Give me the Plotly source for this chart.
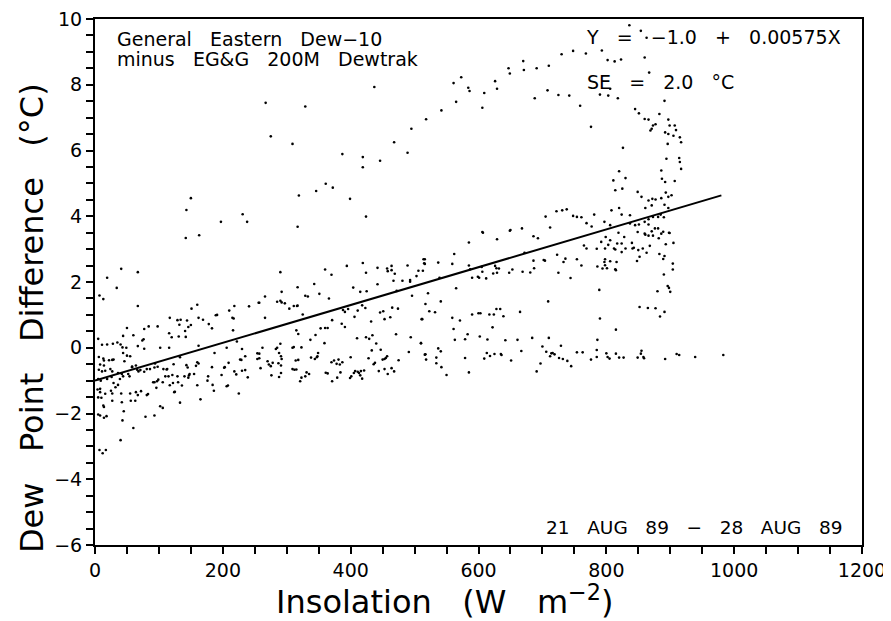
import plotly.graph_objects as go

# (insolation W m-2, dew point difference degC)
low_insolation = [
    (142,3.34),(163,3.42),(41,2.40),(67,2.30),(19,2.13),(34,1.82),(7,1.59),(13,1.48),(67,1.27),(160,1.31),
    (151,1.19),(117,0.91),(129,0.84),(134,0.85),(144,0.83),(150,0.69),(146,0.63),(132,0.70),(162,0.91),(169,0.85),
    (178,0.72),(183,0.59),(189,0.99),(191,1.00),(210,1.13),(215,0.91),(217,0.89),(218,1.27),(241,1.26),(256,1.37),
    (216,0.53),(50,0.60),(44,0.36),(60,0.38),(77,0.57),(84,0.65),(98,0.65),(116,0.44),(120,0.32),(131,0.34),
    (141,0.51),(142,0.33),(76,0.26),(74,0.22),(5,0.27),(11,0.09),(19,0.10),(28,0.12),(35,0.16),(40,0.10),
    (43,0.01),(49,0.0),(67,0.05),(77,-0.03),(102,0.0),(116,0.0),(44,-0.16),(50,-0.24),(55,-0.26),(6,-0.28),
    (13,-0.33),(14,-0.39),(22,-0.38),(27,-0.37),(29,-0.36),(8,-0.51),(14,-0.54),(46,-0.41),(58,-0.57),(6,-0.67),
    (11,-0.72),(16,-0.70),(24,-0.65),(27,-0.72),(36,-0.77),(42,-0.80),(133,-0.29),(162,0.06),(187,-0.16),(206,0.0),
    (222,0.19),(230,-0.04),(235,-0.26),(254,-0.17),(257,-0.32),(227,-0.36),(229,-0.37),(209,-0.46),(203,-0.59),(160,-0.44),
    (162,-0.48),(158,-0.55),(143,-0.53),(145,-0.60),(123,-0.50),(113,-0.65),(107,-0.65),(94,-0.48),(93,-0.60),(98,-0.58),
    (86,-0.65),(81,-0.65),(77,-0.73),(66,-0.67),(68,-0.72),(71,-0.68),(58,-0.59),(64,-0.54),(52,-0.80),(54,-0.87),
    (44,-0.87),(39,-0.95),(5,-0.95),(9,-1.00),(19,-0.95),(26,-0.89),(29,-1.07),(36,-1.13),(32,-1.20),(4,-1.27),
    (8,-1.35),(16,-1.40),(25,-1.31),(27,-1.39),(41,-1.39),(55,-1.39),(64,-1.35),(67,-1.44),(72,-1.32),(81,-1.44),
    (83,-1.41),(5,-1.51),(10,-1.52),(27,-1.61),(42,-1.66),(56,-1.61),(63,-1.61),(13,-1.76),(14,-1.80),(102,-1.78),
    (106,-1.83),(96,-1.22),(93,-1.05),(99,-0.97),(97,-1.02),(91,-1.05),(106,-1.05),(110,-0.87),(112,-0.66),(117,-1.14),
    (122,-1.07),(130,-1.05),(136,-1.15),(124,-1.35),(125,-1.34),(133,-1.67),(115,-0.87),(121,-0.83),(129,-0.87),(140,-0.87),
    (146,-0.91),(147,-0.84),(148,-0.80),(155,-0.80),(160,-1.14),(165,-1.57),(176,-1.00),(177,-0.87),(183,-0.59),(184,-1.13),
    (186,-1.31),(198,-0.83),(202,-0.61),(208,-1.15),(206,-1.17),(218,-0.72),(221,-0.81),(225,-1.39),(239,-0.90),(230,-0.70),
    (235,-0.68),(5,-2.03),(8,-2.06),(14,-2.13),(18,-2.08),(43,-2.21),(45,-1.93),(79,-2.10),(93,-2.06),(60,-2.44),
    (40,-2.81),(7,-3.11),(12,-3.21),(17,-3.11),(8,-1.25),
]

mid_insolation = [
    (290,2.30),(360,2.38),(370,2.22),(394,2.49),(419,2.58),(424,2.28),(442,2.43),(457,2.41),(458,2.33),(464,2.49),
    (464,2.36),(469,2.25),(489,2.50),(493,2.06),(493,2.01),(503,2.18),(506,2.34),(514,2.69),(515,2.57),(467,2.04),
    (481,2.04),(442,1.93),(343,1.94),(317,1.84),(292,1.70),(266,1.56),(257,1.37),(285,1.40),(290,1.43),(292,1.38),
    (297,1.35),(329,1.58),(333,1.56),(351,1.64),(366,1.50),(404,1.83),(415,1.70),(425,1.72),(472,1.73),(496,1.58),
    (304,1.19),(311,1.27),(316,1.27),(317,1.28),(325,1.01),(266,0.91),(371,0.84),(388,1.15),(391,1.09),(396,1.18),
    (406,0.94),(411,1.13),(418,1.29),(423,1.21),(432,0.80),(446,1.07),(451,1.11),(453,0.87),(462,0.93),(465,1.22),
    (474,1.19),(511,0.87),(386,0.73),(391,0.63),(353,0.59),(360,0.60),(364,0.60),(315,0.53),(318,0.42),(345,0.39),
    (337,0.24),(359,0.14),(410,0.29),(424,0.32),(429,0.27),(434,0.38),(440,0.13),(471,0.41),(494,0.32),(510,0.14),
    (516,-0.21),(257,-0.18),(262,0.0),(254,-0.34),(259,-0.62),(285,0.0),(283,-0.04),(290,0.12),(288,-0.16),(291,-0.26),
    (292,-0.34),(270,-0.41),(272,-0.51),(275,-0.56),(278,-0.46),(287,-0.47),(291,-0.54),(276,-0.84),(288,-0.89),(291,-0.77),
    (309,0.0),(311,0.02),(323,0.01),(309,-0.65),(312,-0.67),(315,-0.66),(314,-0.39),(318,-0.37),(331,-0.75),(335,-0.80),
    (329,-0.87),(323,-0.91),(321,-1.02),(338,-0.30),(344,-0.34),(347,-0.29),(349,-0.16),(348,-0.26),(361,-0.76),(364,-0.78),
    (370,-0.44),(374,-0.39),(378,-0.49),(381,-0.36),(387,-0.44),(383,-0.51),(371,-1.02),(379,-0.91),(384,-0.75),(400,-0.29),
    (399,-0.92),(401,-0.87),(405,-0.77),(407,-0.71),(411,-0.73),(413,-0.77),(416,-0.71),(421,-0.69),(418,-0.94),(415,-0.84),
    (428,-0.32),(433,-0.08),(436,-0.50),(438,-0.46),(447,-0.06),(450,-0.36),(453,-0.34),(455,-0.31),(457,-0.26),(444,-0.71),
    (453,-0.65),(458,-0.80),(464,-0.62),(468,-0.72),(475,-0.38),(491,-0.13),
]

high_insolation = [
    (606,3.52),(649,3.56),(585,3.20),(629,3.30),(686,3.39),(693,3.33),(562,2.85),(516,2.69),(516,2.55),(513,2.34),
    (537,2.59),(559,2.55),(585,2.50),(587,2.39),(606,2.31),(605,2.46),(626,2.49),(628,2.42),(632,2.41),(623,2.26),
    (629,2.28),(599,2.16),(601,2.13),(612,2.11),(590,2.13),(648,2.28),(653,2.38),(669,2.31),(681,2.29),(687,2.42),
    (672,2.89),(686,2.65),(702,2.67),(704,2.65),(723,2.83),(736,2.71),(733,2.61),(754,2.69),(761,2.50),(765,3.11),
    (769,3.02),(725,2.28),(744,2.12),(539,2.13),(521,1.66),(565,1.81),(517,1.33),(541,1.41),(523,1.11),(532,1.08),
    (512,0.87),(559,0.91),(571,0.83),(590,1.01),(600,1.05),(603,1.05),(617,1.01),(624,1.01),(628,1.18),(634,1.18),
    (639,0.96),(665,1.09),(709,1.41),(561,0.57),(622,0.62),(583,0.41),(563,0.24),(579,0.26),(602,0.34),(614,0.25),
    (642,0.23),(661,0.24),(684,0.30),(710,0.30),(510,0.14),(537,-0.02),(541,-0.11),(517,-0.20),(518,-0.36),(534,-0.30),
    (534,-0.47),(542,-0.59),(550,-0.83),(579,-0.31),(585,-0.75),(609,-0.33),(613,-0.16),(618,-0.25),(625,-0.19),(635,-0.19),
    (636,-0.22),(651,-0.39),(667,-0.10),(697,-0.48),(691,-0.72),(700,0.04),(706,-0.12),(712,-0.26),(714,-0.17),(716,-0.16),
    (719,-0.20),(726,-0.31),(729,0.06),(732,-0.34),(739,-0.40),(745,-0.56),(754,-0.14),(763,-0.14),
]

peak_insolation = [
    (819,3.50),(828,3.37),(849,3.52),(861,3.44),(866,3.41),(873,3.41),(886,3.47),(882,3.33),(899,3.49),(799,3.37),
    (806,3.27),(792,3.22),(803,3.13),(817,3.17),(824,3.17),(840,3.19),(841,3.02),(843,3.04),(785,3.01),(798,3.02),
    (812,3.02),(814,2.99),(830,3.02),(850,2.97),(857,3.02),(868,3.10),(893,3.15),(905,3.19),(824,2.91),(863,2.89),
    (852,2.77),(848,2.64),(883,2.85),(891,2.79),(889,2.70),(798,2.69),(797,2.61),(806,2.63),(816,2.61),(786,2.47),
    (794,2.41),(801,2.42),(798,2.51),(814,2.39),(815,2.36),(904,2.56),(904,2.38),(890,2.23),(896,1.88),(898,1.82),
    (900,1.70),(880,1.72),(789,1.76),(852,1.24),(865,1.21),(877,1.20),(891,1.09),(884,0.95),(790,0.89),(815,0.55),
    (786,0.24),(785,-0.07),(800,-0.17),(815,-0.18),(855,-0.09),(854,-0.18),(776,-0.36),(785,-0.28),(802,-0.28),(805,-0.33),
    (820,-0.30),(827,-0.30),(849,-0.30),(858,-0.28),(859,-0.32),(892,-0.34),(910,-0.19),(914,-0.22),(939,-0.28),(983,-0.22),
]

upper_loop = [
    (518,6.95),(542,7.22),(565,7.48),(561,8.05),(573,8.23),(584,7.91),(586,7.81),(609,7.75),(606,7.30),(626,8.11),
    (629,7.88),(647,8.50),(649,8.34),(670,8.72),(671,8.45),(691,8.50),(710,8.58),(730,8.93),(748,9.03),(768,8.95),
    (793,9.04),(802,8.75),(813,8.71),(823,8.77),(836,9.81),(854,9.64),(863,9.43),(860,8.83),(806,7.88),(867,8.37),
    (688,7.59),(708,7.83),(725,7.69),(742,7.67),(759,7.36),(776,6.72),(790,7.70),(803,7.67),(818,7.59),(826,6.08),
    (845,7.26),(851,7.13),(860,6.96),(866,6.94),(873,6.76),(877,6.80),(869,6.61),(871,6.66),(883,7.11),(891,7.51),
    (897,6.94),(899,6.76),(907,6.76),(909,6.62),(892,6.55),(897,6.50),(905,6.45),(896,6.20),(915,6.40),(917,6.25),
    (894,5.75),(914,5.77),(915,5.65),(917,5.44),(886,5.39),(887,5.14),(892,5.04),(907,5.07),(820,5.37),(830,5.16),
    (811,5.09),(814,4.79),(825,4.84),(849,4.74),(855,4.59),(866,4.48),(872,4.53),(877,4.51),(886,4.55),(893,4.72),
    (897,4.59),(902,4.64),(861,4.25),(871,4.33),(891,4.35),(897,4.25),(820,4.25),(824,4.05),(837,4.03),(808,4.18),
    (781,4.05),(797,3.83),(806,3.73),(722,4.15),(731,4.18),(738,4.21),(748,4.01),(754,3.98),(761,3.97),(705,3.99),
    (769,3.79),(777,3.69),(837,3.78),(845,3.73),(851,3.75),(860,3.83),(866,3.91),(873,3.98),(881,3.98),(885,4.05),
    (890,3.97),(866,3.75),(876,3.63),(881,3.63),(889,3.53),(898,3.50),(871,3.54),(860,3.47),(650,3.58),(668,3.63),
    (712,3.66),(607,3.50),
]

upper_outliers = [
    (437,7.93),(267,7.45),(329,7.34),(275,6.43),(309,6.20),(495,6.66),(468,6.25),(489,5.93),(387,5.89),(419,5.80),
    (419,5.49),(446,5.69),(361,4.99),(372,4.87),(346,4.77),(319,4.63),(399,4.53),(424,3.99),(317,3.68),(150,4.55),
    (143,4.19),(197,3.83),(231,4.06),(238,3.83),
]

fit_intercept = -1.0
fit_slope = 0.00575
fit_x = [0, 980]

x_ticks = [0, 200, 400, 600, 800, 1000, 1200]
y_ticks = [-6, -4, -2, 0, 2, 4, 6, 8, 10]

groups = [low_insolation, mid_insolation, high_insolation, peak_insolation, upper_loop, upper_outliers]
xs = [p[0] for g in groups for p in g]
ys = [p[1] for g in groups for p in g]
fit_y = [fit_intercept + fit_slope * x for x in fit_x]

FONT = "DejaVu Sans"

fig = go.Figure()
fig.add_trace(go.Scatter(x=xs, y=ys, mode="markers",
                         marker=dict(size=2.6, color="black", line=dict(width=0)),
                         hoverinfo="x+y"))
fig.add_trace(go.Scatter(x=fit_x, y=fit_y, mode="lines",
                         line=dict(color="black", width=2)))

# the page body has an 8 px margin, so the figure is sized to fit the 891x621 window
fig.update_layout(
    width=883, height=613,
    margin=dict(l=87, r=29, t=11, b=76, autoexpand=False),
    plot_bgcolor="white", paper_bgcolor="white",
    showlegend=False,
    font=dict(family=FONT, color="black"),
)

fig.update_xaxes(
    range=[0, 1200], tickvals=x_ticks, ticktext=[str(v) for v in x_ticks],
    ticks="outside", ticklen=7, tickwidth=1.5, tickcolor="black",
    minor=dict(dtick=50, tick0=0, ticks="outside", ticklen=7, tickwidth=1.5, tickcolor="black"),
    showline=True, linewidth=2, linecolor="black", mirror=True,
    showgrid=False, zeroline=False, automargin=False, ticklabeloverflow="allow",
    tickfont=dict(size=19, family=FONT),
)
fig.update_yaxes(
    range=[-6, 10], tickvals=y_ticks, ticktext=[("−" + str(-v)) if v < 0 else str(v) for v in y_ticks],
    ticks="outside", ticklen=7, tickwidth=1.5, tickcolor="black",
    minor=dict(dtick=0.5, tick0=0, ticks="outside", ticklen=7, tickwidth=1.5, tickcolor="black"),
    showline=True, linewidth=2, linecolor="black", mirror=True,
    showgrid=False, zeroline=False, automargin=False, ticklabeloverflow="allow",
    tickfont=dict(size=19, family=FONT),
)

# axis titles placed as annotations
fig.add_annotation(xref="paper", yref="paper", x=0.456, y=-0.104, xanchor="center", yanchor="middle",
                   showarrow=False, font=dict(size=32, family=FONT, color="black"),
                   text="Insolation   (W   m<sup>−2</sup>)")
fig.add_annotation(xref="paper", yref="paper", x=-0.083, y=0.432, xanchor="center", yanchor="middle",
                   textangle=-90, showarrow=False, font=dict(size=32, family=FONT, color="black"),
                   text="Dew   Point   Difference   (°C)")

ann_font = dict(size=19, family=FONT, color="black")
fig.add_annotation(xref="paper", yref="paper", x=0.026, y=0.962, xanchor="left", yanchor="middle",
                   showarrow=False, font=ann_font, text="General   Eastern   Dew−10")
fig.add_annotation(xref="paper", yref="paper", x=0.026, y=0.924, xanchor="left", yanchor="middle",
                   showarrow=False, font=ann_font, text="minus   EG&amp;G   200M   Dewtrak")
fig.add_annotation(xref="paper", yref="paper", x=0.975, y=0.966, xanchor="right", yanchor="middle",
                   showarrow=False, font=ann_font, text="Y   =   −1.0   +   0.00575X")
fig.add_annotation(xref="paper", yref="paper", x=0.639, y=0.881, xanchor="left", yanchor="middle",
                   showarrow=False, font=ann_font, text="SE   =   2.0   °C")
fig.add_annotation(xref="paper", yref="paper", x=0.978, y=0.034, xanchor="right", yanchor="middle",
                   showarrow=False, font=dict(size=18.5, family=FONT, color="black"),
                   text="21   AUG   89   −   28   AUG   89")

fig.write_html("out.html")
